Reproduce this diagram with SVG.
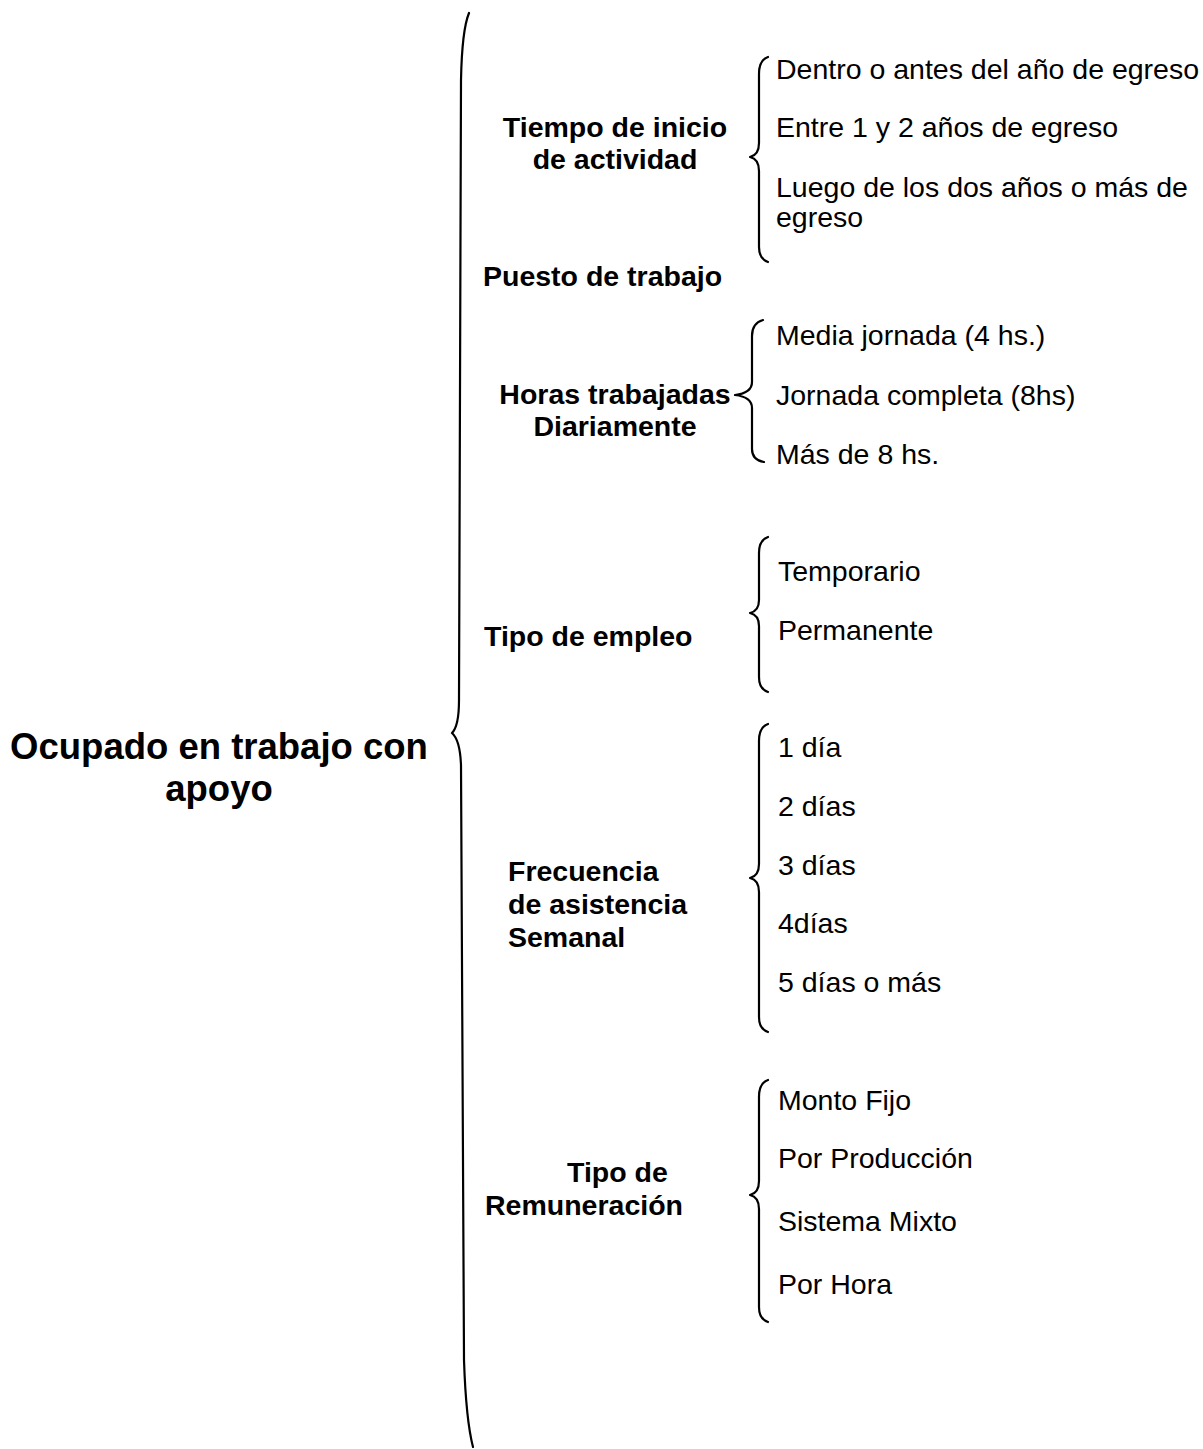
<svg xmlns="http://www.w3.org/2000/svg" width="1203" height="1449" viewBox="0 0 1203 1449">
<style>
.br{fill:none;stroke:#000;stroke-width:2.2;stroke-linecap:round;stroke-linejoin:round}
.t{font-family:"Liberation Sans",Arial,sans-serif;fill:#000}
.title{font-size:36.5px;font-weight:bold}
.lab{font-size:28.5px;font-weight:bold}
.it{font-size:28.5px}
</style>
<rect width="1203" height="1449" fill="#fff"/>
<g id="connectors">
<path class="br" d="M469 13 Q462 30 461 80 L459 700 Q459 726 452 733 Q460 740 461 765 L464 1360 Q466 1420 473 1447"/>
<path class="br" d="M768 57 Q759 60 759 74 L759 143 Q759 155 750 157 Q759 159 759 171 L759 247 Q759 259 768 262"/>
<path class="br" d="M763 320 Q752 323 752 336 L752 382 Q752 393 735 395 Q752 397 752 408 L752 449 Q752 460 764 462"/>
<path class="br" d="M768 537 Q759 540 759 553 L759 600 Q759 611 750 613 Q759 615 759 626 L759 677 Q759 689 768 692"/>
<path class="br" d="M768 724 Q759 727 759 741 L759 864 Q759 876 750 878 Q759 880 759 892 L759 1017 Q759 1029 768 1032"/>
<path class="br" d="M768 1080 Q759 1083 759 1097 L759 1181 Q759 1193 750 1195 Q759 1197 759 1209 L759 1307 Q759 1319 768 1322"/>
</g>
<g id="root"><text class="t title" text-anchor="middle" x="219" y="759">Ocupado en trabajo con</text><text class="t title" text-anchor="middle" x="219" y="801">apoyo</text></g>
<g id="tiempo"><text class="t lab" text-anchor="middle" x="615" y="137">Tiempo de inicio</text><text class="t lab" text-anchor="middle" x="615" y="169">de actividad</text></g>
<g id="puesto"><text class="t lab" x="483" y="286">Puesto de trabajo</text></g>
<g id="horas"><text class="t lab" text-anchor="middle" x="615" y="404">Horas trabajadas</text><text class="t lab" text-anchor="middle" x="615" y="436">Diariamente</text></g>
<g id="tipoempleo"><text class="t lab" x="484" y="646">Tipo de empleo</text></g>
<g id="frecuencia"><text class="t lab" x="508" y="881">Frecuencia</text><text class="t lab" x="508" y="914">de asistencia</text><text class="t lab" x="508" y="947">Semanal</text></g>
<g id="remuneracion"><text class="t lab" x="567" y="1182">Tipo de</text><text class="t lab" x="485" y="1215">Remuneración</text></g>
<g id="tiempo-items">
<text class="t it" x="776" y="79">Dentro o antes del año de egreso</text>
<text class="t it" x="776" y="137">Entre 1 y 2 años de egreso</text>
<text class="t it" x="776" y="197">Luego de los dos años o más de</text>
<text class="t it" x="776" y="227">egreso</text>
</g>
<g id="horas-items">
<text class="t it" x="776" y="345">Media jornada (4 hs.)</text>
<text class="t it" x="776" y="405">Jornada completa (8hs)</text>
<text class="t it" x="776" y="464">Más de 8 hs.</text>
</g>
<g id="empleo-items">
<text class="t it" x="778" y="581">Temporario</text>
<text class="t it" x="778" y="640">Permanente</text>
</g>
<g id="frecuencia-items">
<text class="t it" x="778" y="757">1 día</text>
<text class="t it" x="778" y="816">2 días</text>
<text class="t it" x="778" y="875">3 días</text>
<text class="t it" x="778" y="933">4días</text>
<text class="t it" x="778" y="992">5 días o más</text>
</g>
<g id="remuneracion-items">
<text class="t it" x="778" y="1110">Monto Fijo</text>
<text class="t it" x="778" y="1168">Por Producción</text>
<text class="t it" x="778" y="1231">Sistema Mixto</text>
<text class="t it" x="778" y="1294">Por Hora</text>
</g>
</svg>
